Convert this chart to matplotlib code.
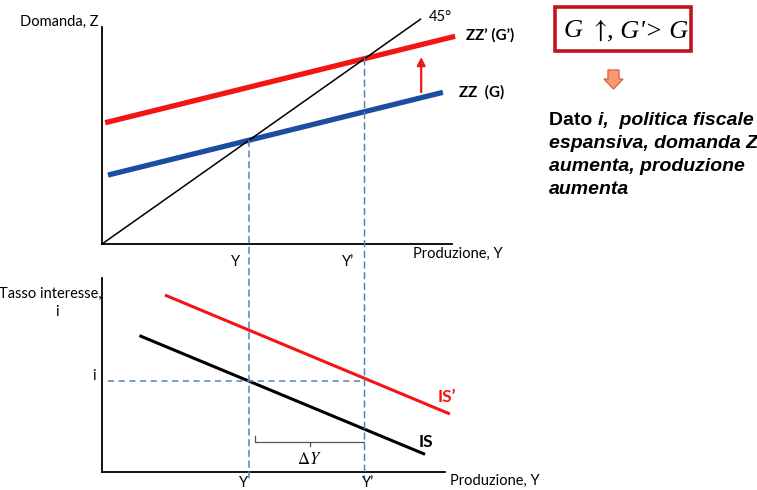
import matplotlib
matplotlib.use("Agg")
import matplotlib.pyplot as plt
from matplotlib.patches import ConnectionPatch, Rectangle, Polygon

plt.rcParams['font.family'] = ['Lato', 'DejaVu Sans']
plt.rcParams['mathtext.fontset'] = 'stix'

W, H = 757, 490

# ---------------- data ----------------
# Top panel (Keynesian cross): output Y vs demand Z
line45_Y = [0, 91]
line45_Z = [0, 91]
ZZ_Y = [1.7, 97.4]          # ZZ (G)
ZZ_Z = [27.9, 61.4]
ZZp_Y = [0.9, 100.9]        # ZZ' (G')
ZZp_Z = [49.1, 84.1]
Y_eq = 42.0                 # equilibrium Y
Yp_eq = 75.0                # equilibrium Y'
shift_arrow_Y = 91.2
shift_arrow_Z = [61.5, 75.7]

# Bottom panel (IS): output Y vs interest rate i
IS_Y = [10.7, 92.3]
IS_i = [70.3, 9.1]
ISp_Y = [18.0, 99.4]
ISp_i = [91.2, 29.9]
i_level = 46.9

top_labels = ["Domanda, Z", "Produzione, Y"]
bottom_labels = ["Tasso interesse,", "Produzione, Y"]
box_parts = ["G ", r"$\uparrow$", ", G'> G"]
note_lines = ["espansiva, domanda Z", "aumenta, produzione", "aumenta"]

RED = "#F51414"
BLUE = "#1A4E9E"
DASH = "#5A80B8"

fig = plt.figure(figsize=(W / 100, H / 100), dpi=100)
fig.patch.set_facecolor("white")

def fx(px):
    return px / W

def fy(py):
    return 1 - py / H

LFS = 10.5  # label font size

# ---------- top axes ----------
ax1 = fig.add_axes([fx(102), fy(244), 350 / W, 217 / H])
ax1.set_xlim(0, 100)
ax1.set_ylim(0, 217 / 2.47)
for s in ["top", "right"]:
    ax1.spines[s].set_visible(False)
for s in ["left", "bottom"]:
    ax1.spines[s].set_linewidth(1.3)
ax1.set_xticks([])
ax1.set_yticks([])
ax1.patch.set_alpha(0)

ax1.plot(line45_Y, line45_Z, color="black", lw=1.1, clip_on=False, zorder=3)
ax1.plot(ZZp_Y, ZZp_Z, color=RED, lw=3.8, clip_on=False, solid_capstyle="butt", zorder=2)
ax1.plot(ZZ_Y, ZZ_Z, color=BLUE, lw=3.8, clip_on=False, solid_capstyle="butt", zorder=2)
ax1.annotate("", xy=(shift_arrow_Y, shift_arrow_Z[1]), xytext=(shift_arrow_Y, shift_arrow_Z[0]),
             arrowprops=dict(arrowstyle="-|>", color=RED, lw=1.6, mutation_scale=12,
                             shrinkA=0, shrinkB=0))
ax1.text(93.5, 91.8, "45°", fontsize=LFS, ha="left", va="center", clip_on=False)
ax1.text(104.0, 84.5, "ZZ’ (G’)", fontsize=11, fontweight="bold", ha="left", va="center", clip_on=False)
ax1.text(102.0, 61.5, "ZZ  (G)", fontsize=11, fontweight="bold", ha="left", va="center", clip_on=False)

# ---------- bottom axes ----------
ax2 = fig.add_axes([fx(102), fy(472), 343 / W, 194 / H])
ax2.set_xlim(0, 98)
ax2.set_ylim(0, 100)
for s in ["top", "right"]:
    ax2.spines[s].set_visible(False)
for s in ["left", "bottom"]:
    ax2.spines[s].set_linewidth(1.3)
ax2.set_xticks([])
ax2.set_yticks([])
ax2.patch.set_alpha(0)

ax2.plot(ISp_Y, ISp_i, color=RED, lw=2.2, clip_on=False, solid_capstyle="butt")
ax2.plot(IS_Y, IS_i, color="black", lw=2.2, clip_on=False, solid_capstyle="butt")
ax2.plot([1.7, Yp_eq], [i_level, i_level], color=DASH, lw=1.1, ls=(0, (4, 3)))
ax2.text(96.0, 38.7, "IS’", color=RED, fontsize=12.5, fontweight="bold", ha="left", va="center", clip_on=False)
ax2.text(90.5, 15.5, "IS", color="black", fontsize=12.5, fontweight="bold", ha="left", va="center", clip_on=False)

# Delta Y bracket
br_y = 15.6
ax2.plot([Y_eq + 1.7, Y_eq + 1.7, Yp_eq], [br_y + 3, br_y, br_y], color="#555555", lw=0.9)
ax2.plot([(Y_eq + 1.7 + Yp_eq) / 2] * 2, [br_y, br_y - 2.2], color="#555555", lw=0.9)
ax2.text((Y_eq + 1.7 + Yp_eq) / 2, 6.5, r"$\Delta Y$", fontsize=12, ha="center", va="center")

# dashed verticals across both panels
for Yv, Zv in [(Y_eq, Y_eq), (Yp_eq, Yp_eq)]:
    cp = ConnectionPatch(xyA=(Yv, Zv), coordsA=ax1.transData,
                         xyB=(Yv, -3.0), coordsB=ax2.transData,
                         color=DASH, lw=1.1, ls=(0, (4, 3)), zorder=1)
    fig.add_artist(cp)

# ---------- axis texts ----------
fig.text(fx(20), fy(22), top_labels[0], fontsize=LFS, ha="left", va="center")
fig.text(fx(413), fy(254), top_labels[1], fontsize=LFS, ha="left", va="center")
fig.text(fx(236), fy(262), "Y", fontsize=LFS, ha="center", va="center")
fig.text(fx(348), fy(262), "Y’", fontsize=LFS, ha="center", va="center")

fig.text(fx(-1), fy(294), bottom_labels[0], fontsize=LFS, ha="left", va="center")
fig.text(fx(57), fy(312), "i", fontsize=LFS, ha="center", va="center")
fig.text(fx(94), fy(376), "i", fontsize=LFS, ha="center", va="center")
fig.text(fx(244), fy(483), "Y", fontsize=LFS, ha="center", va="center")
fig.text(fx(368), fy(483), "Y’", fontsize=LFS, ha="center", va="center")
fig.text(fx(450), fy(481), bottom_labels[1], fontsize=LFS, ha="left", va="center")

# ---------- right-side box ----------
fig.add_artist(Rectangle((fx(555), fy(51)), (691 - 555) / W, 44 / H, transform=fig.transFigure,
                         fill=False, edgecolor="#C0141C", lw=2.6))
fig.canvas.draw()
rend = fig.canvas.get_renderer()
xcur = 564
part_styles = [dict(family=["Liberation Serif"], style="italic", fontsize=19),
               dict(fontsize=19),
               dict(family=["Liberation Serif"], style="italic", fontsize=19)]
part_y = [31, 30, 31]
for part, st, py in zip(box_parts, part_styles, part_y):
    t = fig.text(fx(xcur), fy(py), part, ha="left", va="center", **st)
    xcur = t.get_window_extent(rend).x1

# block arrow
ax_c, top, bot = 613.5, 70, 89
sw, hw, hl = 5.5, 9.5, 10
arrow_pts = [(ax_c - sw, top), (ax_c + sw, top), (ax_c + sw, bot - hl), (ax_c + hw, bot - hl),
             (ax_c, bot), (ax_c - hw, bot - hl), (ax_c - sw, bot - hl)]
fig.add_artist(Polygon([(fx(x), fy(y)) for x, y in arrow_pts], closed=True,
                       transform=fig.transFigure, facecolor="#F79A74", edgecolor="#E0663F", lw=1))

# note text
fs = 14
t1 = fig.text(fx(549), fy(120), "Dato ", fontsize=fs, fontweight="bold",
              family=["Liberation Sans"], ha="left", va="center")
bb = t1.get_window_extent(rend)
fig.text(bb.x1 / W, fy(120), "i,  politica fiscale", fontsize=fs, fontweight="bold", style="italic",
         family=["Liberation Sans"], ha="left", va="center")
for k, line in enumerate(note_lines):
    fig.text(fx(549), fy(143.5 + 23.2 * k), line, fontsize=fs, fontweight="bold", style="italic",
             family=["Liberation Sans"], ha="left", va="center")

fig.savefig("out.png", dpi=100, facecolor="white")
